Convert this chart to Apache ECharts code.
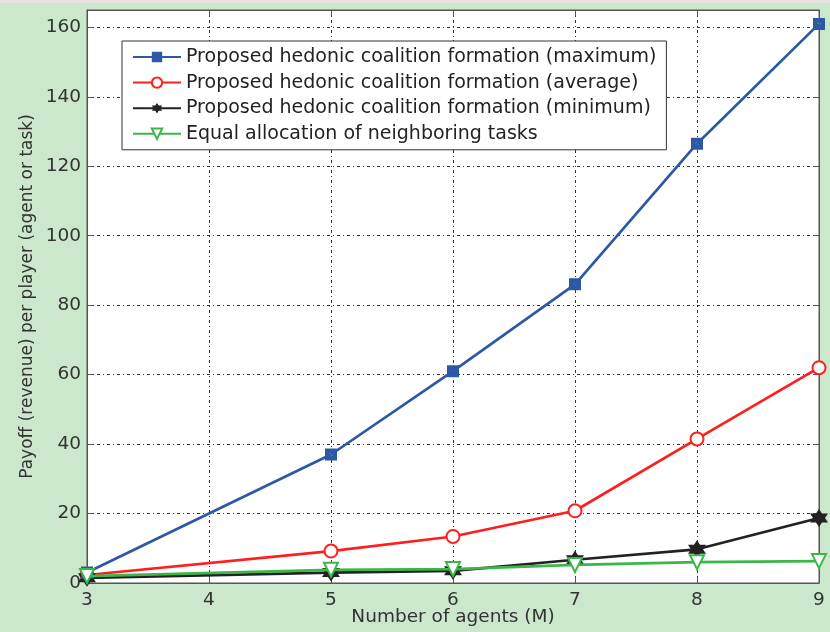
<!DOCTYPE html>
<html>
<head>
<meta charset="utf-8">
<script src="https://cdn.jsdelivr.net/npm/echarts@6/dist/echarts.min.js"></script>
<style>
  html, body { margin: 0; padding: 0; background: #cbe8cc; }
  #chart { width: 830px; height: 632px; }
</style>
</head>
<body>
<div id="chart"></div>
<script>
// Number of agents M
const agents = [3, 5, 6, 7, 8, 9];
// Payoff per player for each strategy
const hedonicMax = [3, 37, 61, 86, 126.5, 161];
const hedonicAvg = [2.3, 9.2, 13.4, 20.8, 41.5, 62];
const hedonicMin = [1.5, 3, 3.5, 6.7, 9.7, 18.7];
const equalAlloc = [2, 3.8, 4, 5.2, 6, 6.3];

const seriesNames = [
  'Proposed hedonic coalition formation (maximum)',
  'Proposed hedonic coalition formation (average)',
  'Proposed hedonic coalition formation (minimum)',
  'Equal allocation of neighboring tasks'
];
const xTitle = 'Number of agents (M)';
const yTitle = 'Payoff (revenue) per player (agent or task)';

const FONT = 'DejaVu Sans, sans-serif';
const squareDot = 'path://M0,0L10,0L10,10L0,10Z M4,4L4,6L6,6L6,4Z';
const hexStar = 'path://M10,0L12.89,5L18.66,5L15.77,10L18.66,15L12.89,15L10,20L7.11,15L1.34,15L4.23,10L1.34,5L7.11,5Z';

const pairs = arr => agents.map((m, i) => [m, arr[i]]);

const gridDash = { color: '#333', width: 1, type: [3, 3, 1, 3] };

function mkSeries(name, data, color, symbol, size, hollow, extra) {
  return Object.assign({
    name: name,
    type: 'line',
    data: pairs(data),
    symbol: symbol,
    symbolSize: size,
    showAllSymbol: true,
    lineStyle: { color: color, width: 2.7 },
    itemStyle: hollow
      ? { color: '#fff', borderColor: color, borderWidth: 2 }
      : { color: color, borderColor: color, borderWidth: 0 },
    emphasis: { disabled: true },
    z: 3
  }, extra || {});
}

const chart = echarts.init(document.getElementById('chart'), null, { renderer: 'canvas' });
chart.setOption({
  backgroundColor: '#cbe8cc',
  animation: false,
  graphic: [
    { type: 'rect', left: 0, top: 0, shape: { width: 830, height: 3 }, style: { fill: '#e6e2e2' }, silent: true }
  ],
  grid: {
    left: 87, right: 11, top: 10, bottom: 49,
    outerBoundsMode: 'none',
    show: true, backgroundColor: '#fff', borderColor: '#555', borderWidth: 1
  },
  legend: {
    orient: 'vertical',
    left: 122, top: 41,
    padding: [6, 10, 6, 10],
    itemGap: 5.6,
    itemWidth: 48, itemHeight: 13,
    backgroundColor: '#fff',
    borderColor: '#333', borderWidth: 1,
    textStyle: { fontFamily: FONT, fontSize: 19, lineHeight: 20, color: '#222' },
    data: seriesNames
  },
  xAxis: [{
    type: 'value', min: 3, max: 9, interval: 1,
    name: xTitle, nameLocation: 'middle', nameGap: 25, nameMoveOverlap: false,
    nameTextStyle: { fontFamily: FONT, fontSize: 18.5, color: '#333' },
    axisLine: { show: true, onZero: false, lineStyle: { color: '#555', width: 1 } },
    axisTick: { show: true, inside: true, length: 6, lineStyle: { color: '#555' } },
    axisLabel: { fontFamily: FONT, fontSize: 18.5, color: '#333', margin: 8 },
    splitLine: { show: true, lineStyle: gridDash }
  }, {
    type: 'value', min: 3, max: 9, interval: 1, position: 'top',
    axisLine: { show: true, onZero: false, lineStyle: { color: '#555', width: 1 } },
    axisTick: { show: true, inside: true, length: 6, lineStyle: { color: '#555' } },
    axisLabel: { show: false }, splitLine: { show: false }
  }],
  yAxis: [{
    type: 'value', min: 0, max: 165, interval: 20,
    name: yTitle, nameLocation: 'middle', nameGap: 51, nameMoveOverlap: false,
    nameTextStyle: { fontFamily: FONT, fontSize: 17, color: '#333' },
    axisLine: { show: true, onZero: false, lineStyle: { color: '#555', width: 1 } },
    axisTick: { show: true, inside: true, length: 6, lineStyle: { color: '#555' } },
    axisLabel: { fontFamily: FONT, fontSize: 18.5, color: '#333', margin: 6, showMaxLabel: false },
    splitLine: { show: true, lineStyle: gridDash }
  }, {
    type: 'value', min: 0, max: 165, interval: 20, position: 'right',
    axisLine: { show: true, onZero: false, lineStyle: { color: '#555', width: 1 } },
    axisTick: { show: true, inside: true, length: 6, lineStyle: { color: '#555' } },
    axisLabel: { show: false }, splitLine: { show: false }
  }],
  series: [
    mkSeries(seriesNames[0], hedonicMax, '#2c58a6', squareDot, 12, false, { z: 4 }),
    mkSeries(seriesNames[1], hedonicAvg, '#ff1e1e', 'circle', 13, true),
    mkSeries(seriesNames[2], hedonicMin, '#222222', hexStar, 18, false),
    mkSeries(seriesNames[3], equalAlloc, '#3cb64a', 'triangle', 14, true, { symbolRotate: 180, z: 5 })
  ]
});
</script>
</body>
</html>
